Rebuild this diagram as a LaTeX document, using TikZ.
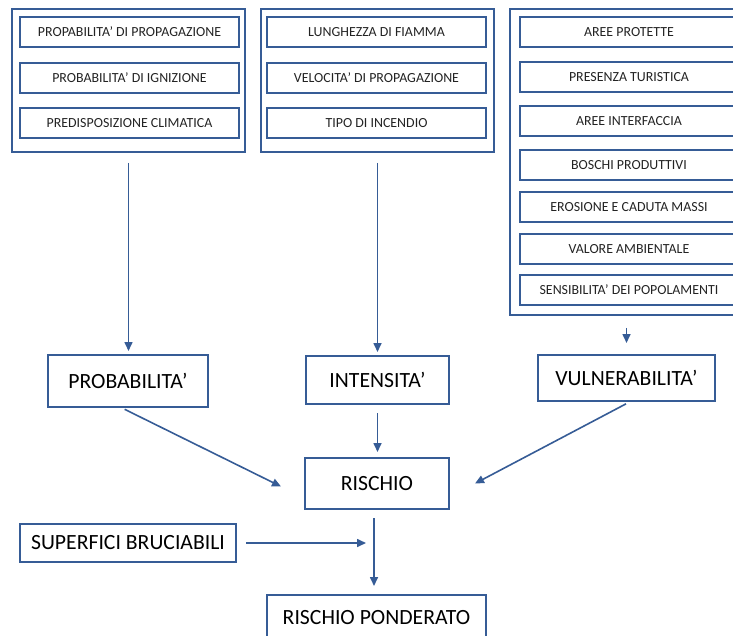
\documentclass[tikz,border=0pt]{standalone}
\usepackage{fontspec}
\setmainfont{Carlito}
\usepackage{xcolor}
\usetikzlibrary{arrows.meta, positioning}
\definecolor{frameblue}{RGB}{54,92,150}
\definecolor{textgray}{RGB}{35,35,35}

\begin{document}
\begin{tikzpicture}[x=1pt, y=-1pt,
  every node/.style={font=\fontsize{13.9}{15}\selectfont, text=textgray},
  group/.style={draw=frameblue, line width=1.9pt, inner sep=0pt, minimum width=233pt},
  itembox/.style={draw=frameblue, line width=2pt, inner sep=0pt,
    minimum width=219pt, minimum height=30pt},
  factor/.style={draw=frameblue, line width=2pt, inner sep=0pt,
    font=\fontsize{21.7}{24}\selectfont, text=black},
  flow/.style={-{Triangle[length=9pt,width=8pt]}, draw=frameblue, line width=1.6pt}]

  % --- page frame (right column runs past the edge) ---
  \useasboundingbox (0,0) rectangle (733,636);
  \clip (0,0) rectangle (733,636);

  % --- the three groups of criteria ---
  \node[group, minimum height=143pt] (grpA) at (128.5,80.5) {};
  \node[group, minimum height=143pt] (grpB) at (377.5,80.5) {};
  \node[group, minimum height=306pt] (grpC) at (626.5,162) {};

  \foreach \y/\txt [count=\i] in {
      32/{PROPABILITA’ DI PROPAGAZIONE},
      78/{PROBABILITA’ DI IGNIZIONE},
      123/{PREDISPOSIZIONE CLIMATICA}}
    \node[itembox] (a\i) at (129.5,\y) {\txt};

  \foreach \y/\txt [count=\i] in {
      32/{LUNGHEZZA DI FIAMMA},
      78/{VELOCITA’ DI PROPAGAZIONE},
      123/{TIPO DI INCENDIO}}
    \node[itembox] (b\i) at (376.5,\y) {\txt};

  \foreach \y/\txt [count=\i] in {
      32/{AREE PROTETTE},
      77.5/{PRESENZA TURISTICA},
      121.5/{AREE INTERFACCIA},
      165/{BOSCHI PRODUTTIVI},
      207.5/{EROSIONE E CADUTA MASSI},
      249/{VALORE AMBIENTALE},
      290/{SENSIBILITA’ DEI POPOLAMENTI}}
    \node[itembox] (c\i) at (629,\y) {\txt};

  % --- factors ---
  \node[factor, minimum width=160pt, minimum height=52pt] (prob) at (128,381) {PROBABILITA’};
  \node[factor, minimum width=143pt, minimum height=48pt] (inte) at (377.5,380) {INTENSITA’};
  \node[factor, minimum width=177pt, minimum height=46pt] (vuln) at (626.5,378) {VULNERABILITA’};
  \node[factor, minimum width=144pt, minimum height=51pt] (risk) at (377,483.5) {RISCHIO};
  \node[factor, minimum width=216pt, minimum height=38pt] (surf) at (128,543) {SUPERFICI BRUCIABILI};
  \node[factor, minimum width=219pt, minimum height=46pt] (wrisk) at (376.5,618) {RISCHIO PONDERATO};
  \coordinate (join) at (374,543);

  % --- connectors ---
  \draw[flow, shorten <=10pt, shorten >=3pt] (grpA.south) -- (grpA.south |- prob.north);
  \draw[flow, shorten <=10pt, shorten >=3pt] (grpB.south) -- (grpB.south |- inte.north);
  \draw[flow, shorten <=12pt, shorten >=11pt] (grpC.south) -- (grpC.south |- vuln.north);

  \draw[flow, shorten <=3pt] ([xshift=-6pt]prob.south) -- ([xshift=-23pt,yshift=-3pt]risk.west);
  \draw[flow, shorten <=8pt, shorten >=5pt] (inte.south) -- (inte.south |- risk.north);
  \draw[flow, shorten <=4pt] ([xshift=3pt]vuln.south) -- ([xshift=25pt]risk.east);

  \draw[flow, shorten <=9pt, shorten >=8pt] (surf.east) -- (join);
  \draw[flow, shorten <=8pt, shorten >=8pt] (risk.south -| join) -- (wrisk.north -| join);
\end{tikzpicture}
\end{document}
